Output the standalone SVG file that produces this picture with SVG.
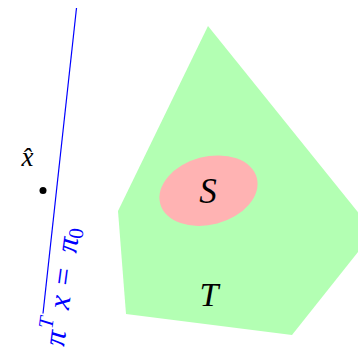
<svg xmlns="http://www.w3.org/2000/svg" width="358" height="350" viewBox="0 0 358 350">
<style>
.math{font-family:"Liberation Serif","Times New Roman",serif;font-style:italic;}
.up{font-style:normal;}
</style>
<rect width="358" height="350" fill="#ffffff"/>
<g id="T">
<polygon points="208,26 374,232 292,335 126,314 118,211" fill="#b3ffb3"/>
<text class="math" x="209" y="305.5" font-size="34" text-anchor="middle">T</text>
</g>
<g id="S">
<ellipse cx="208.5" cy="190.7" rx="50" ry="34" transform="rotate(-15 208.5 190.7)" fill="#ffb3b3"/>
<text class="math" x="208" y="203" font-size="35" text-anchor="middle">S</text>
</g>
<g id="xhat">
<circle cx="43" cy="190.5" r="3.5" fill="#000000"/>
<text class="math" x="27.5" y="166" font-size="27" text-anchor="middle">x̂</text>
</g>
<g id="connectors">
<line x1="76.5" y1="8" x2="43" y2="313.5" stroke="#0000ff" stroke-width="1.2"/>
</g>
<g id="hyperplane-label" fill="#0000ff">
<text class="math" font-size="31" transform="translate(64,347) rotate(-82.5)"><tspan x="0" y="0">π</tspan><tspan x="16" y="-14" font-size="21">T</tspan><tspan x="37" y="0">x</tspan><tspan class="up" x="61" y="0">=</tspan><tspan x="94" y="0">π</tspan><tspan class="up" x="109" y="4" font-size="21">0</tspan></text>
</g>
</svg>
